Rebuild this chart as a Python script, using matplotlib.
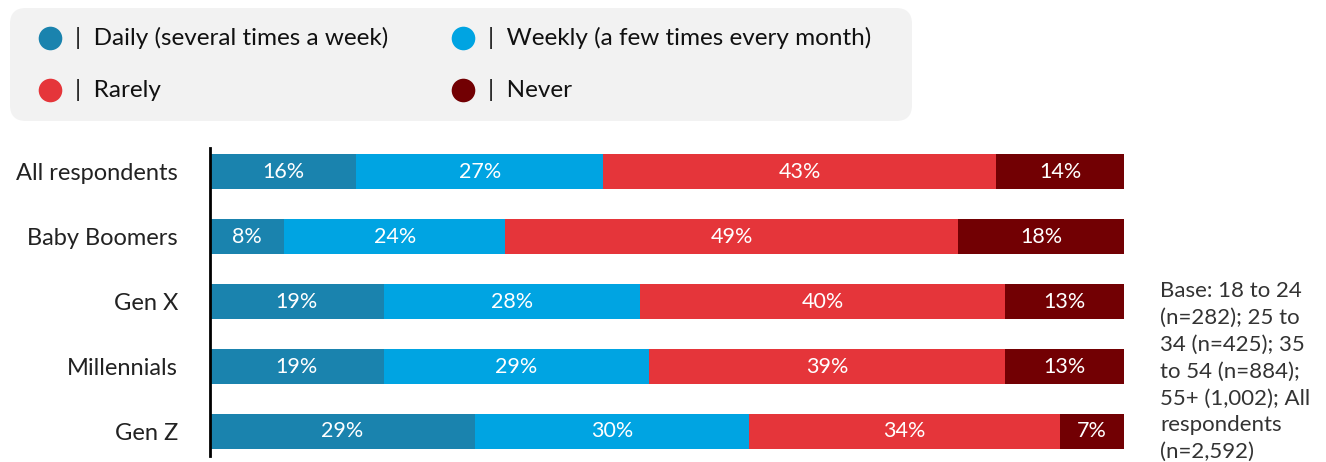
import matplotlib
matplotlib.use("Agg")
import matplotlib.pyplot as plt
from matplotlib.patches import FancyBboxPatch
import numpy as np

categories = ["All respondents", "Baby Boomers", "Gen X", "Millennials", "Gen Z"]
series_names = ["Daily (several times a week)", "Weekly (a few times every month)", "Rarely", "Never"]
daily = [16, 8, 19, 19, 29]
weekly = [27, 24, 28, 29, 30]
rarely = [43, 49, 40, 39, 34]
never = [14, 18, 13, 13, 7]
colors = ["#1a83ae", "#00a4e2", "#e5353a", "#720003"]
note = "Base: 18 to 24\n(n=282); 25 to\n34 (n=425); 35\nto 54 (n=884);\n55+ (1,002); All\nrespondents\n(n=2,592)"

plt.rcParams['font.family'] = ['Lato', 'DejaVu Sans']

W, H = 1326, 462
fig = plt.figure(figsize=(W/100, H/100), dpi=100)
ax = fig.add_axes([210/W, 1-456/H, 914/W, 308/H])

data = np.array([daily, weekly, rarely, never], dtype=float)
totals = data.sum(axis=0)
shares = data / totals * 100
y = np.arange(len(categories))
left = np.zeros(len(categories))
for i in range(4):
    ax.barh(y, shares[i], left=left, height=0.54, color=colors[i], linewidth=0)
    for j in range(len(categories)):
        ax.text(left[j] + shares[i][j]/2, y[j], f"{int(data[i][j])}%", ha='center', va='center',
                color='white', fontsize=15.5)
    left += shares[i]

ax.set_xlim(0, 100)
ax.set_ylim(4.38, -0.37)
ax.set_yticks(y)
ax.set_yticklabels(categories, fontsize=17, color='#222222')
ax.tick_params(axis='y', length=0, pad=23)
ax.set_xticks([])
for s in ['top', 'right', 'bottom']:
    ax.spines[s].set_visible(False)
ax.spines['left'].set_linewidth(2)
ax.spines['left'].set_color('black')

# legend box
box = FancyBboxPatch((10/W, 1-121/H), 902/W, 113/H, boxstyle="round,pad=0,rounding_size=0.012",
                     transform=fig.transFigure, facecolor='#f2f2f2', edgecolor='none', mutation_aspect=W/H)
fig.patches.append(box)
pos = [(50, 38), (463, 38), (50, 90), (463, 90)]
for (px, py), name, c in zip(pos, series_names, colors):
    fig.lines.append(plt.Line2D([px/W], [1-py/H], marker='o', markersize=17, color=c,
                                markeredgewidth=0, transform=fig.transFigure))
    fig.text((px+25)/W, 1-py/H, "|  " + name, fontsize=17.5, va='center', ha='left', color='#111111')

fig.text(1160/W, 1-281/H, note, fontsize=16, va='top', ha='left', color='#333333', linespacing=1.43)

fig.savefig("out.png", dpi=100)
